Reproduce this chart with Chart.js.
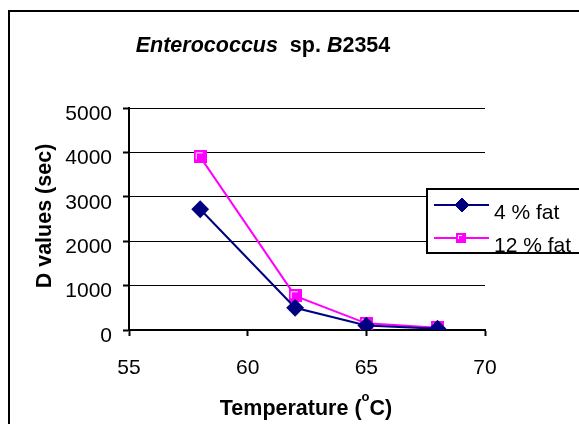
<!DOCTYPE html>
<html>
<head>
<meta charset="utf-8">
<script src="https://cdn.jsdelivr.net/npm/chart.js@4.4.0/dist/chart.umd.min.js"></script>
<style>
  html, body { margin: 0; padding: 0; background: #fff; }
  #wrap { position: relative; width: 579px; height: 424px; overflow: hidden; }
  #frame { position: absolute; left: 8px; top: 10px; width: 600px; height: 500px; border: 2px solid #000; box-sizing: border-box; }
  canvas { position: absolute; left: 0; top: 0; }
</style>
</head>
<body>
<div id="wrap">
  <div id="frame"></div>
  <canvas id="chart" width="579" height="424"></canvas>
</div>
<script>
// Données
const temperatures = [58, 62, 65, 68];
const fat4 = [2720, 500, 100, 30];
const fat12 = [3900, 770, 150, 50];
const seriesLabels = ['4 % fat', '12 % fat'];
const xTicks = [55, 60, 65, 70];
const yTicks = [0, 1000, 2000, 3000, 4000, 5000];

const FONT = 'Liberation Sans, Arial, sans-serif';

// Marqueur carré façon Excel (magenta avec reflet blanc)
function squareMarker(size) {
    const c = document.createElement('canvas');
    c.width = size;
    c.height = size;
    const g = c.getContext('2d');
    g.fillStyle = '#FF00FF';
    g.fillRect(0, 0, size, size);
    g.strokeStyle = '#fff';
    g.lineWidth = 1;
    g.beginPath();
    g.moveTo(2.5, size - 4);
    g.lineTo(2.5, 2.5);
    g.lineTo(size - 4, 2.5);
    g.stroke();
    return c;
}

// Titres et légende dessinés à la main (mélange italique / gras)
const decorations = {
    id: 'decorations',
    afterDraw(chart) {
        const ctx = chart.ctx;
        ctx.save();
        ctx.fillStyle = '#000';
        ctx.textBaseline = 'alphabetic';

        // Titre
        const parts = [
            ['italic bold 21.5px ' + FONT, 'Enterococcus'],
            ['bold 21.5px ' + FONT, '  sp. '],
            ['italic bold 21.5px ' + FONT, 'B'],
            ['bold 21.5px ' + FONT, '2354']
        ];
        let total = 0;
        parts.forEach(p => { ctx.font = p[0]; total += ctx.measureText(p[1]).width; });
        let x = 263 - total / 2;
        ctx.textAlign = 'left';
        parts.forEach(p => {
            ctx.font = p[0];
            ctx.fillText(p[1], x, 51.5);
            x += ctx.measureText(p[1]).width;
        });

        // Titre axe X avec exposant
        const a = 'Temperature (', b = 'C)';
        ctx.font = 'bold 21.5px ' + FONT;
        const wa = ctx.measureText(a).width;
        const wb = ctx.measureText(b).width;
        ctx.font = 'bold 13px ' + FONT;
        const wo = ctx.measureText('o').width;
        let tx = 306 - (wa + wo + wb) / 2;
        ctx.font = 'bold 21.5px ' + FONT;
        ctx.fillText(a, tx, 415);
        ctx.font = 'bold 13px ' + FONT;
        ctx.fillText('o', tx + wa, 401);
        ctx.font = 'bold 21.5px ' + FONT;
        ctx.fillText(b, tx + wa + wo, 415);

        // Titre axe Y
        ctx.save();
        ctx.translate(51, 216);
        ctx.rotate(-Math.PI / 2);
        ctx.textAlign = 'center';
        ctx.font = 'bold 21.5px ' + FONT;
        ctx.fillText('D values (sec)', 0, 0);
        ctx.restore();

        // Légende
        const lx = 427, ly = 189, lw = 160, lh = 64;
        ctx.fillStyle = '#fff';
        ctx.fillRect(lx, ly, lw, lh);
        ctx.strokeStyle = '#000';
        ctx.lineWidth = 2;
        ctx.strokeRect(lx, ly, lw, lh);
        chart.data.datasets.forEach((ds, i) => {
            const cy = 205 + i * 33;
            ctx.strokeStyle = ds.borderColor;
            ctx.lineWidth = ds.borderWidth;
            ctx.beginPath();
            ctx.moveTo(434, cy);
            ctx.lineTo(489, cy);
            ctx.stroke();
            ctx.fillStyle = ds.pointBackgroundColor;
            ctx.strokeStyle = ds.pointBorderColor;
            ctx.lineWidth = 1;
            if (i === 0) {
                Chart.helpers.drawPoint(ctx, { pointStyle: ds.pointStyle, radius: 7, borderWidth: 1, rotation: 0 }, 462, cy);
            } else {
                ctx.drawImage(squareMarker(10), 456, cy - 5);
            }
            ctx.fillStyle = '#000';
            ctx.textAlign = 'left';
            ctx.font = '21px ' + FONT;
            ctx.fillText(ds.label, 494, cy + 13.5);
        });
        ctx.restore();
    }
};

new Chart(document.getElementById('chart'), {
    type: 'line',
    data: {
        datasets: [{
            label: seriesLabels[0],
            data: temperatures.map((t, i) => ({ x: t, y: fat4[i] })),
            borderColor: '#000080',
            borderWidth: 2,
            pointStyle: 'rectRot',
            pointRadius: 7.5,
            pointBackgroundColor: '#000080',
            pointBorderColor: '#000080'
        }, {
            label: seriesLabels[1],
            data: temperatures.map((t, i) => ({ x: t, y: fat12[i] })),
            borderColor: '#FF00FF',
            borderWidth: 2,
            pointStyle: squareMarker(13),
            pointRadius: 7,
            pointBackgroundColor: '#FF00FF',
            pointBorderColor: '#FF00FF'
        }]
    },
    options: {
        responsive: false,
        animation: false,
        layout: { padding: { left: 0, right: 94, top: 108, bottom: 0 } },
        plugins: { legend: { display: false }, tooltip: { enabled: false } },
        scales: {
            x: {
                type: 'linear',
                min: 55,
                max: 70,
                afterBuildTicks: s => { s.ticks = xTicks.map(v => ({ value: v })); },
                afterFit: s => { s.height = 94; },
                grid: { display: true, drawOnChartArea: false, color: '#000', tickLength: 6, tickWidth: 2 },
                border: { color: '#000', width: 2 },
                ticks: { color: '#000', padding: 20, font: { family: FONT, size: 21 }, maxRotation: 0 }
            },
            y: {
                min: 0,
                max: 5000,
                afterBuildTicks: s => { s.ticks = yTicks.map(v => ({ value: v })); },
                afterFit: s => { s.width = 129; },
                grid: { color: '#000', lineWidth: 1, tickLength: 6, tickWidth: 2 },
                border: { color: '#000', width: 2 },
                ticks: {
                    color: '#000', padding: 11, labelOffset: 6,
                    font: { family: FONT, size: 21 },
                    callback: v => String(v)
                }
            }
        }
    },
    plugins: [decorations]
});
</script>
</body>
</html>
